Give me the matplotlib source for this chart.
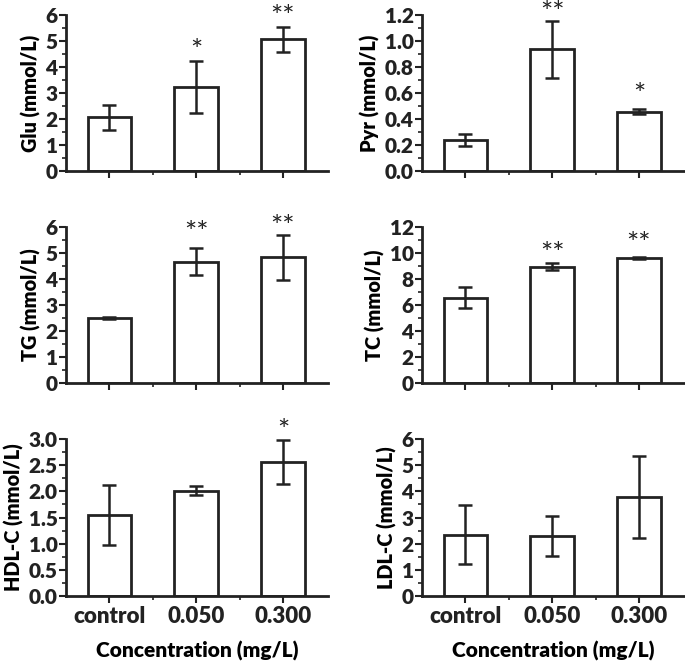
import numpy as np
import matplotlib.pyplot as plt
from matplotlib.ticker import MultipleLocator, FixedLocator

plt.rcParams['font.family'] = ['Lato', 'DejaVu Sans']
plt.rcParams['font.weight'] = 'heavy'

groups = ['control', '0.050', '0.300']

labels = ['Glu (mmol/L)', 'Pyr (mmol/L)', 'TG (mmol/L)',
          'TC (mmol/L)', 'HDL-C (mmol/L)', 'LDL-C (mmol/L)']
means = [[2.06, 3.23, 5.07],
         [0.238, 0.937, 0.456],
         [2.50, 4.67, 4.83],
         [6.56, 8.95, 9.59],
         [1.55, 2.015, 2.56],
         [2.34, 2.28, 3.77]]
errs = [[0.47, 1.0, 0.48],
        [0.048, 0.22, 0.019],
        [0.05, 0.52, 0.87],
        [0.80, 0.27, 0.08],
        [0.57, 0.085, 0.42],
        [1.12, 0.77, 1.57]]
stars = [['', '*', '**'],
         ['', '**', '*'],
         ['', '**', '**'],
         ['', '**', '**'],
         ['', '', '*'],
         ['', '', '']]
star_y = [[0, 4.85, 6.17],
          [0, 1.26, 0.63],
          [0, 6.0, 6.23],
          [0, 10.38, 11.17],
          [0, 0, 3.27],
          [0, 0, 0]]
ymax = [6, 1.2, 6, 12, 3.0, 6]
ystep = [1, 0.2, 1, 2, 0.5, 1]
yfmt = ['%d', '%.1f', '%d', '%d', '%.1f', '%d']

fig = plt.figure(figsize=(6.85, 6.63), dpi=100)
col_x = [66 / 685, 422 / 685]
w = 262 / 685
rows = [(171, 15), (383, 227), (596, 439)]

x = np.arange(len(groups))
for i in range(6):
    r, c = divmod(i, 2)
    bot, top = rows[r]
    ax = fig.add_axes([col_x[c], 1 - bot / 663, w, (bot - top) / 663])
    ax.bar(x, means[i], width=0.5, color='white', edgecolor='#222222',
           linewidth=2, zorder=2)
    ax.errorbar(x, means[i], yerr=errs[i], fmt='none', ecolor='#222222',
                elinewidth=1.8, capsize=5, capthick=1.8, zorder=3)
    for j in range(3):
        if stars[i][j]:
            # glyph sits high in its box, nudge down a bit
            ax.annotate(stars[i][j], (x[j], star_y[i][j]), xytext=(0, -5),
                        textcoords='offset points', ha='center', va='center',
                        fontsize=21, color='#222222', annotation_clip=False,
                        fontweight='normal')
    ax.set_xlim(-0.5, 2.52)
    ax.set_ylim(0, ymax[i])
    ax.yaxis.set_major_locator(MultipleLocator(ystep[i]))
    ax.yaxis.set_minor_locator(MultipleLocator(ystep[i] / 2))
    ax.yaxis.set_major_formatter(plt.FormatStrFormatter(yfmt[i]))
    ax.set_xticks(x)
    ax.xaxis.set_minor_locator(FixedLocator([0.5, 1.5]))
    if r == 2:
        ax.set_xticklabels(groups)
        ax.set_xlabel('Concentration (mg/L)', fontsize=15,
                      fontweight='heavy', labelpad=10.5)
    else:
        ax.set_xticklabels([])
    ax.set_ylabel(labels[i], fontsize=14.3, fontweight='heavy', labelpad=3)
    for s in ['top', 'right']:
        ax.spines[s].set_visible(False)
    for s in ['left', 'bottom']:
        ax.spines[s].set_linewidth(2)
        ax.spines[s].set_color('#222222')
    ax.tick_params(which='major', direction='out', length=5, width=1.5,
                   labelsize=15, colors='#222222')
    ax.tick_params(which='minor', direction='out', length=3, width=1.2,
                   colors='#222222')
    ax.tick_params(axis='y', pad=1)
    ax.tick_params(axis='x', labelsize=16, pad=2)

fig.canvas.draw()
for ax in fig.axes:
    for lbl in ax.get_xticklabels() + ax.get_yticklabels():
        lbl.set_fontweight('heavy')

fig.savefig('out.png', dpi=100)
